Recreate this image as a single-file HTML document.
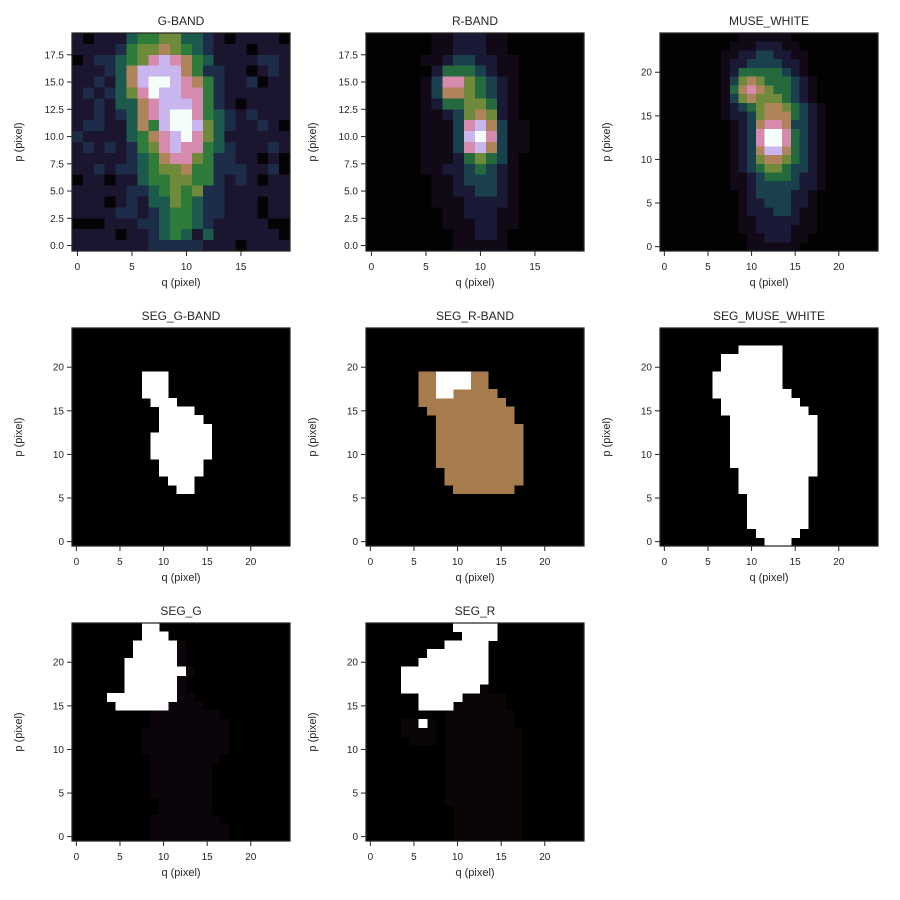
<!DOCTYPE html>
<html><head><meta charset="utf-8"><style>
html,body{margin:0;padding:0;background:#fff;}
svg{display:block;font-family:"Liberation Sans","DejaVu Sans",sans-serif;}
</style></head><body>
<svg id="fig" width="900" height="900" viewBox="0 0 900 900" xmlns="http://www.w3.org/2000/svg"></svg>
<script>
// ---- data ----
const paletteG = ["#050305","#1b1530","#1d2c48","#1b5a4c","#2f7b3a","#6f8a3a","#b0845a","#d58aae","#c9b6ee","#f4fdf9"];
const paletteDim = ["#030203","#110a16","#1a1a36","#1a404e","#25693e","#6f8a3a","#b0845a","#d58aae","#c9b6ee","#f4fdf9"];
const gBand = [
"10111344553321011110","11112455654321110111","01223457876431111221","11123688886422110121",
"11213689987642112011","12123579887742111111","11213367888742101111","11212367899743212111",
"12211364899853211210","21111346789753111111","12121245787743211121","11111234677542211010",
"11212234556442221120","01101134455442121011","11111223454522111111","11101213354322111011",
"11112212344322111011","00011122344321111100","11110112343131111110","11111112222211101111"];
const rBand = [
"00000011222110000000","00000011222110000000","00000112332211000000","00000024443211000000",
"00000137754321000000","00000136654321000000","00000124455421000000","00000112356521000000",
"00000111378631100000","00000111389731100000","00000111378631100000","00000111245431000000",
"00000112234321000000","00000011233321000000","00000011223321000000","00000011122221000000",
"00000001122211000000","00000001112211000000","00000000112210000000","00000000111110000000"];
const museWhite = [
"0000000001111110000000000","0000000011122211000000000","0000000112233221100000000","0000000122333322100000000",
"0000000124444432100000000","0000000135654443210000000","0000000146765443210000000","0000000135655543210000000",
"0000000123456654321000000","0000000122356664321000000","0000000012367763321000000","0000000012379974321000000",
"0000000012379974321000000","0000000012368864321000000","0000000012356654321000000","0000000012345543321000000",
"0000000011234443221000000","0000000011233333221000000","0000000001233332210000000","0000000001223332210000000",
"0000000001222332110000000","0000000001122222110000000","0000000001122221110000000","0000000000112221100000000",
"0000000000111111000000000"];
// segmentation runs: [p, qStart, qEnd]
const segGBandWhite = [[19,8,10],[18,8,10],[17,8,10],[16,9,11],[15,10,13],[14,10,14],[13,10,15],[12,9,15],[11,9,15],[10,9,15],[9,10,14],[8,10,14],[7,11,13],[6,12,13]];
const segRBandBrown = [[19,6,7],[19,12,13],[18,6,7],[18,12,13],[17,6,7],[17,10,14],[16,6,15],[15,7,16],[14,8,16],[13,8,17],[12,8,17],[11,8,17],[10,8,17],[9,8,17],[8,9,17],[7,9,17],[6,10,16]];
const segRBandWhite = [[19,8,11],[18,8,11],[17,8,9]];
const segMuseWhite = [[22,9,13],[21,7,13],[20,7,13],[19,6,13],[18,6,13],[17,6,14],[16,7,15],[15,7,16],[14,8,17],[13,8,17],[12,8,17],[11,8,17],[10,8,17],[9,8,17],[8,9,17],[7,9,16],[6,9,16],[5,10,16],[4,10,16],[3,10,16],[2,10,16],[1,11,15],[0,12,14]];
const segGWhite = [[24,8,9],[23,8,10],[22,7,11],[21,7,11],[20,6,11],[19,6,12],[18,6,11],[17,6,11],[16,4,11],[15,5,10]];
const segGDark = [[22,12,12],[21,12,12],[20,12,12],[19,13,13],[18,12,12],[17,12,12],[16,12,13],[15,11,14],[14,9,16],[13,9,17],[12,8,17],[11,8,17],[10,8,17],[9,9,16],[8,9,15],[7,9,15],[6,9,15],[5,9,15],[4,10,15],[3,10,15],[2,9,16],[1,9,17],[0,9,17]];
const segRWhite = [[24,10,14],[23,11,14],[22,9,13],[21,7,13],[20,6,13],[19,4,13],[18,4,13],[17,4,12],[16,6,10],[15,6,9],[13,6,6]];
const segRDark = [[17,13,13],[16,11,15],[15,10,15],[14,9,16],[13,9,16],[12,9,17],[11,9,17],[10,9,17],[9,9,17],[8,9,17],[7,9,17],[6,9,17],[5,9,17],[4,9,17],[3,10,17],[2,10,17],[1,10,17],[0,10,17],[13,4,7],[12,4,7],[11,5,7]];
const ticks20 = ["0.0","2.5","5.0","7.5","10.0","12.5","15.0","17.5"];
const ticks20v = [0,2.5,5,7.5,10,12.5,15,17.5];
const xt20 = [0,5,10,15];
const ticks25 = [0,5,10,15,20];

// ---- drawing ----
const NS="http://www.w3.org/2000/svg";
const svg=document.getElementById('fig');
const S=218;
function mk(tag,attrs,parent){const e=document.createElementNS(NS,tag);for(const k in attrs)e.setAttribute(k,attrs[k]);(parent||svg).appendChild(e);return e;}

function panel(ox,oy,n,title,yT,yTl,xT,slug){
  const g=mk('g',{});
  
  
  const sx=q=>ox+(q+0.5)/n*S;
  const sy=p=>oy+S-(p+0.5)/n*S;
  const cw=S/n;
  const img=mk('g',{'shape-rendering':'crispEdges'},g);
  
  
  return {g,img,sx,sy,cw,finish:function(){
    const fr=mk('rect',{x:ox,y:oy,width:S,height:S,fill:'none',stroke:'#262626','stroke-width':1.25},g);
    
    
    yT.forEach((v,i)=>{
      const y=sy(v);
      mk('line',{x1:ox,x2:ox-5,y1:y,y2:y,stroke:'#262626','stroke-width':1},g);
      const t=mk('text',{x:ox-8,y:y+3.5,'text-anchor':'end','font-size':10,fill:'#262626'},g);
      t.textContent=yTl[i];
      
      
    });
    xT.forEach(v=>{
      const x=sx(v);
      mk('line',{x1:x,x2:x,y1:oy+S,y2:oy+S+5,stroke:'#262626','stroke-width':1},g);
      const t=mk('text',{x:x,y:oy+S+19,'text-anchor':'middle','font-size':10,fill:'#262626'},g);
      t.textContent=String(v);
      
      
    });
    const tt=mk('text',{x:ox+S/2,y:oy-8,'text-anchor':'middle','font-size':12,fill:'#262626'},g);
    tt.textContent=title;
    
    
    const xl=mk('text',{x:ox+S/2,y:oy+S+35,'text-anchor':'middle','font-size':11,fill:'#262626'},g);
    xl.textContent='q (pixel)';
    
    
    const yx=ox-50, yy=oy+S/2;
    const yl=mk('text',{x:yx,y:yy,'text-anchor':'middle','font-size':11,fill:'#262626',transform:`rotate(-90 ${yx} ${yy})`},g);
    yl.textContent='p (pixel)';
    
    
  }};
}
function drawGrid(P,rows,n,pal){
  rows.forEach((row,ri)=>{
    const p=n-1-ri;
    for(let q=0;q<n;q++){
      const r=mk('rect',{x:P.sx(q)-P.cw/2,y:P.sy(p)-P.cw/2,width:P.cw+0.5,height:P.cw+0.5,fill:pal[+row[q]]},P.img);
      
      
    }
  });
}
function drawBg(P,n,color){
  const r=mk('rect',{x:P.sx(0)-P.cw/2,y:P.sy(n-1)-P.cw/2,width:S,height:S,fill:color},P.img);
  
  
}
function drawRuns(P,runs,color){
  runs.forEach(([p,a,b])=>{
    const r=mk('rect',{x:P.sx(a)-P.cw/2,y:P.sy(p)-P.cw/2,width:(b-a+1)*P.cw+0.5,height:P.cw+0.5,fill:color},P.img);
    
    
  });
}
const cols=[72,366,660], rowsY=[33,328,623];
let P;
P=panel(cols[0],rowsY[0],20,'G-BAND',ticks20v,ticks20,xt20,'g-band'); drawGrid(P,gBand,20,paletteG); P.finish();
P=panel(cols[1],rowsY[0],20,'R-BAND',ticks20v,ticks20,xt20,'r-band'); drawGrid(P,rBand,20,paletteDim); P.finish();
P=panel(cols[2],rowsY[0],25,'MUSE_WHITE',ticks25,ticks25.map(String),ticks25,'muse-white'); drawGrid(P,museWhite,25,paletteDim); P.finish();
P=panel(cols[0],rowsY[1],25,'SEG_G-BAND',ticks25,ticks25.map(String),ticks25,'seg-g-band'); drawBg(P,25,'#000'); drawRuns(P,segGBandWhite,'#fff'); P.finish();
P=panel(cols[1],rowsY[1],25,'SEG_R-BAND',ticks25,ticks25.map(String),ticks25,'seg-r-band'); drawBg(P,25,'#000'); drawRuns(P,segRBandBrown,'#a67c4e'); drawRuns(P,segRBandWhite,'#fff'); P.finish();
P=panel(cols[2],rowsY[1],25,'SEG_MUSE_WHITE',ticks25,ticks25.map(String),ticks25,'seg-muse-white'); drawBg(P,25,'#000'); drawRuns(P,segMuseWhite,'#fff'); P.finish();
P=panel(cols[0],rowsY[2],25,'SEG_G',ticks25,ticks25.map(String),ticks25,'seg-g'); drawBg(P,25,'#000'); drawRuns(P,segGDark,'#0b040b'); drawRuns(P,segGWhite,'#fff'); P.finish();
P=panel(cols[1],rowsY[2],25,'SEG_R',ticks25,ticks25.map(String),ticks25,'seg-r'); drawBg(P,25,'#000'); drawRuns(P,segRDark,'#090508'); drawRuns(P,segRWhite,'#fff'); P.finish();
</script>
</body></html>
